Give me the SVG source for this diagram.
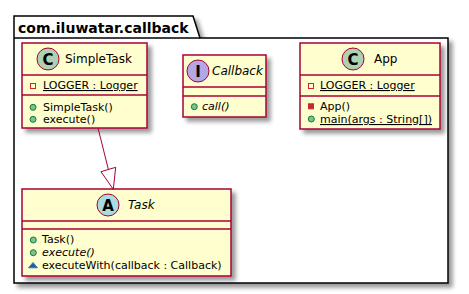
<svg xmlns="http://www.w3.org/2000/svg" width="469" height="294" viewBox="0 0 469 294">
<defs>
<filter id="sh" x="-10%" y="-10%" width="130%" height="130%">
<feGaussianBlur in="SourceAlpha" stdDeviation="2" result="b"/>
<feOffset in="b" dx="4" dy="4" result="o"/>
<feComponentTransfer in="o" result="s"><feFuncA type="linear" slope="0.4"/></feComponentTransfer>
<feMerge><feMergeNode in="s"/><feMergeNode in="SourceGraphic"/></feMerge>
</filter>
<style>
.box{fill:#FEFECE;stroke:#A80036;stroke-width:1.5}
.sep{stroke:#A80036;stroke-width:1.5}
.t{font-family:"DejaVu Sans",sans-serif;font-size:11px;fill:#000}
.n{font-family:"DejaVu Sans",sans-serif;font-size:12px;fill:#000}
.i{font-style:italic}
.u{text-decoration:underline}
.lt{font-family:"DejaVu Sans",sans-serif;font-size:15px;font-weight:bold;fill:#000;text-anchor:middle}
.pub{fill:#84BE84;stroke:#038048;stroke-width:1}
.priv{fill:#C82930;stroke:#C82930;stroke-width:1}
.privf{fill:none;stroke:#C82930;stroke-width:1}
.pkg{fill:#1963A0;stroke:#4177AF;stroke-width:1}
</style>
</defs>
<g id="package">
<path d="M14,16 L193,16 L200,38 L448,38 L448,283 L14,283 Z" fill="#FFFFFF" stroke="#000" stroke-width="1.5" filter="url(#sh)"/>
<line x1="14" y1="38" x2="200" y2="38" stroke="#000" stroke-width="1.5"/>
<text x="18" y="33" font-family="DejaVu Sans, sans-serif" font-size="14" font-weight="bold">com.iluwatar.callback</text>
</g>
<g id="SimpleTask">
<rect class="box" x="22" y="43" width="125" height="85" filter="url(#sh)"/>
<circle cx="48" cy="59" r="11" fill="#ADD1B2" stroke="#A80036" stroke-width="1"/>
<text class="lt" x="48" y="64.5">C</text>
<text class="n" x="65" y="63">SimpleTask</text>
<line class="sep" x1="22" y1="75" x2="147" y2="75"/>
<rect class="privf" x="30.5" y="83.5" width="5" height="5"/>
<text class="t u" x="43" y="89">LOGGER : Logger</text>
<line class="sep" x1="22" y1="95" x2="147" y2="95"/>
<circle class="pub" cx="33" cy="107.3" r="3"/>
<text class="t" x="43" y="111">SimpleTask()</text>
<circle class="pub" cx="33" cy="119.3" r="3"/>
<text class="t" x="43" y="123">execute()</text>
</g>
<g id="Callback">
<rect class="box" x="183" y="55" width="83" height="62" filter="url(#sh)"/>
<circle cx="198" cy="71" r="11" fill="#B4A7E5" stroke="#A80036" stroke-width="1"/>
<text class="lt" x="198" y="76.5">I</text>
<text class="n i" x="212" y="75">Callback</text>
<line class="sep" x1="183" y1="87" x2="266" y2="87"/>
<line class="sep" x1="183" y1="96" x2="266" y2="96"/>
<circle class="pub" cx="194.3" cy="106.7" r="3"/>
<text class="t i" x="202" y="110">call()</text>
</g>
<g id="App">
<rect class="box" x="300" y="43" width="140" height="86" filter="url(#sh)"/>
<circle cx="353" cy="59" r="11" fill="#ADD1B2" stroke="#A80036" stroke-width="1"/>
<text class="lt" x="353" y="64.5">C</text>
<text class="n" x="374" y="63">App</text>
<line class="sep" x1="300" y1="75" x2="440" y2="75"/>
<rect class="privf" x="308.5" y="83.5" width="5" height="5"/>
<text class="t u" x="320" y="89">LOGGER : Logger</text>
<line class="sep" x1="300" y1="96" x2="440" y2="96"/>
<rect class="priv" x="308.5" y="103.8" width="5" height="5"/>
<text class="t" x="320" y="110">App()</text>
<circle class="pub" cx="311.3" cy="119" r="3"/>
<text class="t u" x="320" y="123">main(args : String[])</text>
</g>
<g id="Task">
<rect class="box" x="22" y="189" width="209" height="87" filter="url(#sh)"/>
<circle cx="108" cy="205" r="11" fill="#A9DCDF" stroke="#A80036" stroke-width="1"/>
<text class="lt" x="108" y="210.5">A</text>
<text class="n i" x="128" y="209">Task</text>
<line class="sep" x1="22" y1="221" x2="231" y2="221"/>
<line class="sep" x1="22" y1="229" x2="231" y2="229"/>
<circle class="pub" cx="33.3" cy="240" r="3"/>
<text class="t" x="42" y="243">Task()</text>
<circle class="pub" cx="33.3" cy="252.7" r="3"/>
<text class="t i" x="42" y="256">execute()</text>
<polygon class="pkg" points="33,262.5 37.5,267.8 28.5,267.8"/>
<text class="t" x="42" y="269">executeWith(callback : Callback)</text>
</g>
<g id="connectors">
<path d="M98,128 L108.4,169.5" fill="none" stroke="#A80036" stroke-width="1"/>
<polygon points="113.3,189.3 101,171.7 115.7,167.3" fill="none" stroke="#A80036" stroke-width="1"/>
</g>
</svg>
